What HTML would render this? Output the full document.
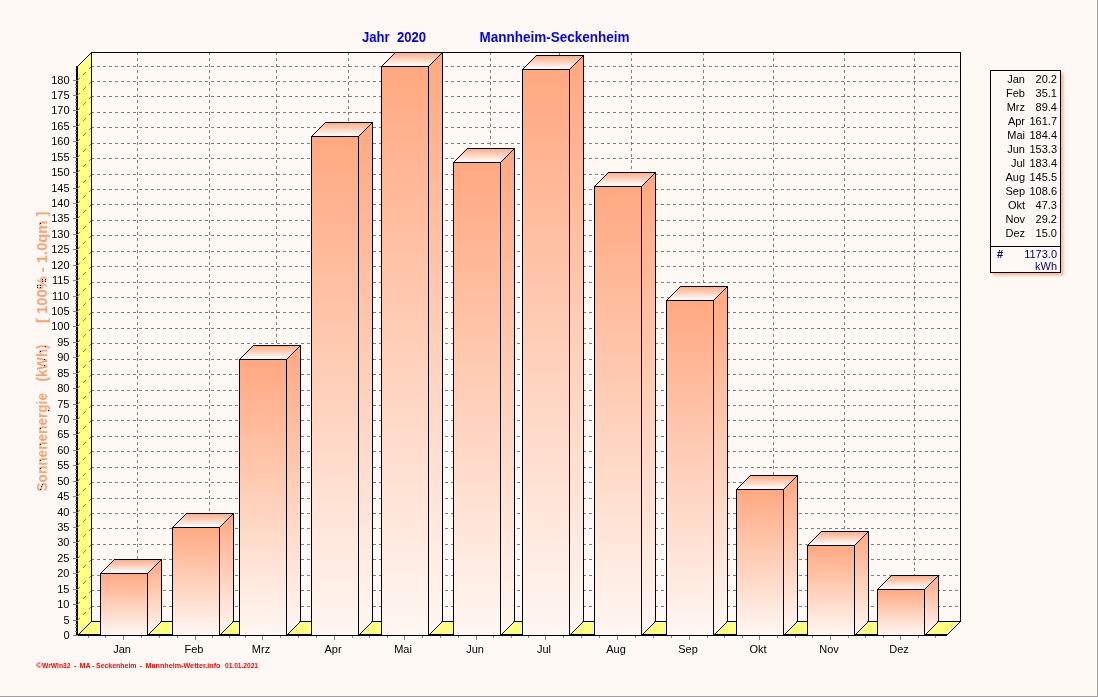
<!DOCTYPE html>
<html><head><meta charset="utf-8"><style>
html,body{margin:0;padding:0;background:#FFF9F5;width:1098px;height:697px;overflow:hidden}
text{font-family:"Liberation Sans",sans-serif}
</style></head><body>
<div style="will-change:transform"><svg width="1098" height="697" viewBox="0 0 1098 697" style="display:block">
<defs>
<linearGradient id="gv" x1="0" y1="0" x2="0" y2="1"><stop offset="0" stop-color="#FFA880"/><stop offset="1" stop-color="#FFF7F3"/></linearGradient>
</defs>
<rect x="0" y="0" width="1098" height="697" fill="#FFF9F5"/>
<rect x="1097" y="0" width="1" height="697" fill="#A0A0A0"/>
<rect x="0" y="696" width="1098" height="1" fill="#A0A0A0"/>
<g stroke="#808080" stroke-width="1" stroke-dasharray="3 3" shape-rendering="crispEdges"><line x1="91" y1="606.5" x2="960" y2="606.5"/><line x1="91" y1="590.5" x2="960" y2="590.5"/><line x1="91" y1="575.5" x2="960" y2="575.5"/><line x1="91" y1="559.5" x2="960" y2="559.5"/><line x1="91" y1="544.5" x2="960" y2="544.5"/><line x1="91" y1="528.5" x2="960" y2="528.5"/><line x1="91" y1="513.5" x2="960" y2="513.5"/><line x1="91" y1="498.5" x2="960" y2="498.5"/><line x1="91" y1="482.5" x2="960" y2="482.5"/><line x1="91" y1="467.5" x2="960" y2="467.5"/><line x1="91" y1="451.5" x2="960" y2="451.5"/><line x1="91" y1="436.5" x2="960" y2="436.5"/><line x1="91" y1="420.5" x2="960" y2="420.5"/><line x1="91" y1="405.5" x2="960" y2="405.5"/><line x1="91" y1="390.5" x2="960" y2="390.5"/><line x1="91" y1="374.5" x2="960" y2="374.5"/><line x1="91" y1="359.5" x2="960" y2="359.5"/><line x1="91" y1="343.5" x2="960" y2="343.5"/><line x1="91" y1="328.5" x2="960" y2="328.5"/><line x1="91" y1="312.5" x2="960" y2="312.5"/><line x1="91" y1="297.5" x2="960" y2="297.5"/><line x1="91" y1="282.5" x2="960" y2="282.5"/><line x1="91" y1="266.5" x2="960" y2="266.5"/><line x1="91" y1="251.5" x2="960" y2="251.5"/><line x1="91" y1="235.5" x2="960" y2="235.5"/><line x1="91" y1="220.5" x2="960" y2="220.5"/><line x1="91" y1="204.5" x2="960" y2="204.5"/><line x1="91" y1="189.5" x2="960" y2="189.5"/><line x1="91" y1="174.5" x2="960" y2="174.5"/><line x1="91" y1="158.5" x2="960" y2="158.5"/><line x1="91" y1="143.5" x2="960" y2="143.5"/><line x1="91" y1="127.5" x2="960" y2="127.5"/><line x1="91" y1="112.5" x2="960" y2="112.5"/><line x1="91" y1="96.5" x2="960" y2="96.5"/><line x1="91" y1="81.5" x2="960" y2="81.5"/><line x1="91" y1="66.5" x2="960" y2="66.5"/><line x1="137.5" y1="52" x2="137.5" y2="621"/><line x1="209.5" y1="52" x2="209.5" y2="621"/><line x1="276.5" y1="52" x2="276.5" y2="621"/><line x1="348.5" y1="52" x2="348.5" y2="621"/><line x1="418.5" y1="52" x2="418.5" y2="621"/><line x1="490.5" y1="52" x2="490.5" y2="621"/><line x1="559.5" y1="52" x2="559.5" y2="621"/><line x1="631.5" y1="52" x2="631.5" y2="621"/><line x1="703.5" y1="52" x2="703.5" y2="621"/><line x1="773.5" y1="52" x2="773.5" y2="621"/><line x1="844.5" y1="52" x2="844.5" y2="621"/><line x1="914.5" y1="52" x2="914.5" y2="621"/></g>
<g fill="#000">
<rect x="91" y="52" width="870" height="1"/>
<rect x="960" y="52" width="1" height="570"/>
<rect x="91" y="52" width="1" height="570"/>
</g>
<polygon points="77,66 91,52 91,621 77,635" fill="#FFFF80"/>
<polygon points="77,635 91,621 960,621 946,635" fill="#FFFF80"/>
<g stroke="#000" stroke-width="1" shape-rendering="crispEdges" fill="none">
<line x1="77.5" y1="66.5" x2="91.5" y2="52.5"/>
<line x1="77.5" y1="635.5" x2="91.5" y2="621.5"/>
<line x1="946.5" y1="635.5" x2="960.5" y2="621.5"/>
<line x1="91" y1="621.5" x2="961" y2="621.5"/>
</g>
<g fill="#000">
<rect x="76" y="66" width="2" height="570"/>
<rect x="76" y="634" width="871" height="2"/>
</g>
<path fill="#808080" d="M75,631h2v1h-2zM75,627h2v1h-2zM75,624h2v1h-2zM75,616h2v1h-2zM75,612h2v1h-2zM75,608h2v1h-2zM75,600h2v1h-2zM75,596h2v1h-2zM75,593h2v1h-2zM75,585h2v1h-2zM75,581h2v1h-2zM75,577h2v1h-2zM75,569h2v1h-2zM75,565h2v1h-2zM75,562h2v1h-2zM75,554h2v1h-2zM75,550h2v1h-2zM75,546h2v1h-2zM75,538h2v1h-2zM75,534h2v1h-2zM75,531h2v1h-2zM75,523h2v1h-2zM75,519h2v1h-2zM75,516h2v1h-2zM75,508h2v1h-2zM75,504h2v1h-2zM75,500h2v1h-2zM75,492h2v1h-2zM75,488h2v1h-2zM75,485h2v1h-2zM75,477h2v1h-2zM75,473h2v1h-2zM75,469h2v1h-2zM75,461h2v1h-2zM75,457h2v1h-2zM75,454h2v1h-2zM75,446h2v1h-2zM75,442h2v1h-2zM75,438h2v1h-2zM75,430h2v1h-2zM75,426h2v1h-2zM75,423h2v1h-2zM75,415h2v1h-2zM75,411h2v1h-2zM75,408h2v1h-2zM75,400h2v1h-2zM75,396h2v1h-2zM75,392h2v1h-2zM75,384h2v1h-2zM75,380h2v1h-2zM75,377h2v1h-2zM75,369h2v1h-2zM75,365h2v1h-2zM75,361h2v1h-2zM75,353h2v1h-2zM75,349h2v1h-2zM75,346h2v1h-2zM75,338h2v1h-2zM75,334h2v1h-2zM75,330h2v1h-2zM75,322h2v1h-2zM75,318h2v1h-2zM75,315h2v1h-2zM75,307h2v1h-2zM75,303h2v1h-2zM75,300h2v1h-2zM75,292h2v1h-2zM75,288h2v1h-2zM75,284h2v1h-2zM75,276h2v1h-2zM75,272h2v1h-2zM75,269h2v1h-2zM75,261h2v1h-2zM75,257h2v1h-2zM75,253h2v1h-2zM75,245h2v1h-2zM75,241h2v1h-2zM75,238h2v1h-2zM75,230h2v1h-2zM75,226h2v1h-2zM75,222h2v1h-2zM75,214h2v1h-2zM75,210h2v1h-2zM75,207h2v1h-2zM75,199h2v1h-2zM75,195h2v1h-2zM75,192h2v1h-2zM75,184h2v1h-2zM75,180h2v1h-2zM75,176h2v1h-2zM75,168h2v1h-2zM75,164h2v1h-2zM75,161h2v1h-2zM75,153h2v1h-2zM75,149h2v1h-2zM75,145h2v1h-2zM75,137h2v1h-2zM75,133h2v1h-2zM75,130h2v1h-2zM75,122h2v1h-2zM75,118h2v1h-2zM75,114h2v1h-2zM75,106h2v1h-2zM75,102h2v1h-2zM75,99h2v1h-2zM75,91h2v1h-2zM75,87h2v1h-2zM75,84h2v1h-2zM73,635h5v1h-5zM73,620h5v1h-5zM73,604h5v1h-5zM73,589h5v1h-5zM73,573h5v1h-5zM73,558h5v1h-5zM73,542h5v1h-5zM73,527h5v1h-5zM73,512h5v1h-5zM73,496h5v1h-5zM73,481h5v1h-5zM73,465h5v1h-5zM73,450h5v1h-5zM73,434h5v1h-5zM73,419h5v1h-5zM73,404h5v1h-5zM73,388h5v1h-5zM73,373h5v1h-5zM73,357h5v1h-5zM73,342h5v1h-5zM73,326h5v1h-5zM73,311h5v1h-5zM73,296h5v1h-5zM73,280h5v1h-5zM73,265h5v1h-5zM73,249h5v1h-5zM73,234h5v1h-5zM73,218h5v1h-5zM73,203h5v1h-5zM73,188h5v1h-5zM73,172h5v1h-5zM73,157h5v1h-5zM73,141h5v1h-5zM73,126h5v1h-5zM73,110h5v1h-5zM73,95h5v1h-5zM73,80h5v1h-5z"/>
<path fill="#808080" d="M78,619h1v1h-1zM79,618h1v1h-1zM83,614h1v1h-1zM84,613h1v1h-1zM85,612h1v1h-1zM89,608h1v1h-1zM90,607h1v1h-1zM78,603h1v1h-1zM79,602h1v1h-1zM83,598h1v1h-1zM84,597h1v1h-1zM85,596h1v1h-1zM89,592h1v1h-1zM90,591h1v1h-1zM78,588h1v1h-1zM79,587h1v1h-1zM83,583h1v1h-1zM84,582h1v1h-1zM85,581h1v1h-1zM89,577h1v1h-1zM90,576h1v1h-1zM78,572h1v1h-1zM79,571h1v1h-1zM83,567h1v1h-1zM84,566h1v1h-1zM85,565h1v1h-1zM89,561h1v1h-1zM90,560h1v1h-1zM78,557h1v1h-1zM79,556h1v1h-1zM83,552h1v1h-1zM84,551h1v1h-1zM85,550h1v1h-1zM89,546h1v1h-1zM90,545h1v1h-1zM78,541h1v1h-1zM79,540h1v1h-1zM83,536h1v1h-1zM84,535h1v1h-1zM85,534h1v1h-1zM89,530h1v1h-1zM90,529h1v1h-1zM78,526h1v1h-1zM79,525h1v1h-1zM83,521h1v1h-1zM84,520h1v1h-1zM85,519h1v1h-1zM89,515h1v1h-1zM90,514h1v1h-1zM78,511h1v1h-1zM79,510h1v1h-1zM83,506h1v1h-1zM84,505h1v1h-1zM85,504h1v1h-1zM89,500h1v1h-1zM90,499h1v1h-1zM78,495h1v1h-1zM79,494h1v1h-1zM83,490h1v1h-1zM84,489h1v1h-1zM85,488h1v1h-1zM89,484h1v1h-1zM90,483h1v1h-1zM78,480h1v1h-1zM79,479h1v1h-1zM83,475h1v1h-1zM84,474h1v1h-1zM85,473h1v1h-1zM89,469h1v1h-1zM90,468h1v1h-1zM78,464h1v1h-1zM79,463h1v1h-1zM83,459h1v1h-1zM84,458h1v1h-1zM85,457h1v1h-1zM89,453h1v1h-1zM90,452h1v1h-1zM78,449h1v1h-1zM79,448h1v1h-1zM83,444h1v1h-1zM84,443h1v1h-1zM85,442h1v1h-1zM89,438h1v1h-1zM90,437h1v1h-1zM78,433h1v1h-1zM79,432h1v1h-1zM83,428h1v1h-1zM84,427h1v1h-1zM85,426h1v1h-1zM89,422h1v1h-1zM90,421h1v1h-1zM78,418h1v1h-1zM79,417h1v1h-1zM83,413h1v1h-1zM84,412h1v1h-1zM85,411h1v1h-1zM89,407h1v1h-1zM90,406h1v1h-1zM78,403h1v1h-1zM79,402h1v1h-1zM83,398h1v1h-1zM84,397h1v1h-1zM85,396h1v1h-1zM89,392h1v1h-1zM90,391h1v1h-1zM78,387h1v1h-1zM79,386h1v1h-1zM83,382h1v1h-1zM84,381h1v1h-1zM85,380h1v1h-1zM89,376h1v1h-1zM90,375h1v1h-1zM78,372h1v1h-1zM79,371h1v1h-1zM83,367h1v1h-1zM84,366h1v1h-1zM85,365h1v1h-1zM89,361h1v1h-1zM90,360h1v1h-1zM78,356h1v1h-1zM79,355h1v1h-1zM83,351h1v1h-1zM84,350h1v1h-1zM85,349h1v1h-1zM89,345h1v1h-1zM90,344h1v1h-1zM78,341h1v1h-1zM79,340h1v1h-1zM83,336h1v1h-1zM84,335h1v1h-1zM85,334h1v1h-1zM89,330h1v1h-1zM90,329h1v1h-1zM78,325h1v1h-1zM79,324h1v1h-1zM83,320h1v1h-1zM84,319h1v1h-1zM85,318h1v1h-1zM89,314h1v1h-1zM90,313h1v1h-1zM78,310h1v1h-1zM79,309h1v1h-1zM83,305h1v1h-1zM84,304h1v1h-1zM85,303h1v1h-1zM89,299h1v1h-1zM90,298h1v1h-1zM78,295h1v1h-1zM79,294h1v1h-1zM83,290h1v1h-1zM84,289h1v1h-1zM85,288h1v1h-1zM89,284h1v1h-1zM90,283h1v1h-1zM78,279h1v1h-1zM79,278h1v1h-1zM83,274h1v1h-1zM84,273h1v1h-1zM85,272h1v1h-1zM89,268h1v1h-1zM90,267h1v1h-1zM78,264h1v1h-1zM79,263h1v1h-1zM83,259h1v1h-1zM84,258h1v1h-1zM85,257h1v1h-1zM89,253h1v1h-1zM90,252h1v1h-1zM78,248h1v1h-1zM79,247h1v1h-1zM83,243h1v1h-1zM84,242h1v1h-1zM85,241h1v1h-1zM89,237h1v1h-1zM90,236h1v1h-1zM78,233h1v1h-1zM79,232h1v1h-1zM83,228h1v1h-1zM84,227h1v1h-1zM85,226h1v1h-1zM89,222h1v1h-1zM90,221h1v1h-1zM78,217h1v1h-1zM79,216h1v1h-1zM83,212h1v1h-1zM84,211h1v1h-1zM85,210h1v1h-1zM89,206h1v1h-1zM90,205h1v1h-1zM78,202h1v1h-1zM79,201h1v1h-1zM83,197h1v1h-1zM84,196h1v1h-1zM85,195h1v1h-1zM89,191h1v1h-1zM90,190h1v1h-1zM78,187h1v1h-1zM79,186h1v1h-1zM83,182h1v1h-1zM84,181h1v1h-1zM85,180h1v1h-1zM89,176h1v1h-1zM90,175h1v1h-1zM78,171h1v1h-1zM79,170h1v1h-1zM83,166h1v1h-1zM84,165h1v1h-1zM85,164h1v1h-1zM89,160h1v1h-1zM90,159h1v1h-1zM78,156h1v1h-1zM79,155h1v1h-1zM83,151h1v1h-1zM84,150h1v1h-1zM85,149h1v1h-1zM89,145h1v1h-1zM90,144h1v1h-1zM78,140h1v1h-1zM79,139h1v1h-1zM83,135h1v1h-1zM84,134h1v1h-1zM85,133h1v1h-1zM89,129h1v1h-1zM90,128h1v1h-1zM78,125h1v1h-1zM79,124h1v1h-1zM83,120h1v1h-1zM84,119h1v1h-1zM85,118h1v1h-1zM89,114h1v1h-1zM90,113h1v1h-1zM78,109h1v1h-1zM79,108h1v1h-1zM83,104h1v1h-1zM84,103h1v1h-1zM85,102h1v1h-1zM89,98h1v1h-1zM90,97h1v1h-1zM78,94h1v1h-1zM79,93h1v1h-1zM83,89h1v1h-1zM84,88h1v1h-1zM85,87h1v1h-1zM89,83h1v1h-1zM90,82h1v1h-1zM78,79h1v1h-1zM79,78h1v1h-1zM83,74h1v1h-1zM84,73h1v1h-1zM85,72h1v1h-1zM89,68h1v1h-1zM90,67h1v1h-1z"/>
<polygon points="147,573 161,559 161,621 147,635" fill="url(#gv)"/>
<linearGradient id="gt0" x1="0" y1="0" x2="0" y2="1"><stop offset="0" stop-color="#FFA880"/><stop offset="1" stop-color="#FFFFFF"/></linearGradient>
<polygon points="100,573 114,559 161,559 147,573" fill="url(#gt0)"/>
<rect x="100" y="573" width="47" height="62" fill="url(#gv)"/>
<g stroke="#000" stroke-width="1" shape-rendering="crispEdges" fill="none">
<rect x="100.5" y="573.5" width="47" height="62"/>
<line x1="100.5" y1="573.5" x2="114.5" y2="559.5"/>
<line x1="147.5" y1="573.5" x2="161.5" y2="559.5"/>
<line x1="147.5" y1="635.5" x2="161.5" y2="621.5"/>
<line x1="114" y1="559.5" x2="162" y2="559.5"/>
<line x1="161.5" y1="559" x2="161.5" y2="622"/>
</g>
<polygon points="219,527 233,513 233,621 219,635" fill="url(#gv)"/>
<linearGradient id="gt1" x1="0" y1="0" x2="0" y2="1"><stop offset="0" stop-color="#FFA880"/><stop offset="1" stop-color="#FFFFFF"/></linearGradient>
<polygon points="172,527 186,513 233,513 219,527" fill="url(#gt1)"/>
<rect x="172" y="527" width="47" height="108" fill="url(#gv)"/>
<g stroke="#000" stroke-width="1" shape-rendering="crispEdges" fill="none">
<rect x="172.5" y="527.5" width="47" height="108"/>
<line x1="172.5" y1="527.5" x2="186.5" y2="513.5"/>
<line x1="219.5" y1="527.5" x2="233.5" y2="513.5"/>
<line x1="219.5" y1="635.5" x2="233.5" y2="621.5"/>
<line x1="186" y1="513.5" x2="234" y2="513.5"/>
<line x1="233.5" y1="513" x2="233.5" y2="622"/>
</g>
<polygon points="286,359 300,345 300,621 286,635" fill="url(#gv)"/>
<linearGradient id="gt2" x1="0" y1="0" x2="0" y2="1"><stop offset="0" stop-color="#FFA880"/><stop offset="1" stop-color="#FFFFFF"/></linearGradient>
<polygon points="239,359 253,345 300,345 286,359" fill="url(#gt2)"/>
<rect x="239" y="359" width="47" height="276" fill="url(#gv)"/>
<g stroke="#000" stroke-width="1" shape-rendering="crispEdges" fill="none">
<rect x="239.5" y="359.5" width="47" height="276"/>
<line x1="239.5" y1="359.5" x2="253.5" y2="345.5"/>
<line x1="286.5" y1="359.5" x2="300.5" y2="345.5"/>
<line x1="286.5" y1="635.5" x2="300.5" y2="621.5"/>
<line x1="253" y1="345.5" x2="301" y2="345.5"/>
<line x1="300.5" y1="345" x2="300.5" y2="622"/>
</g>
<polygon points="358,136 372,122 372,621 358,635" fill="url(#gv)"/>
<linearGradient id="gt3" x1="0" y1="0" x2="0" y2="1"><stop offset="0" stop-color="#FFA880"/><stop offset="1" stop-color="#FFFFFF"/></linearGradient>
<polygon points="311,136 325,122 372,122 358,136" fill="url(#gt3)"/>
<rect x="311" y="136" width="47" height="499" fill="url(#gv)"/>
<g stroke="#000" stroke-width="1" shape-rendering="crispEdges" fill="none">
<rect x="311.5" y="136.5" width="47" height="499"/>
<line x1="311.5" y1="136.5" x2="325.5" y2="122.5"/>
<line x1="358.5" y1="136.5" x2="372.5" y2="122.5"/>
<line x1="358.5" y1="635.5" x2="372.5" y2="621.5"/>
<line x1="325" y1="122.5" x2="373" y2="122.5"/>
<line x1="372.5" y1="122" x2="372.5" y2="622"/>
</g>
<polygon points="428,66 442,52 442,621 428,635" fill="url(#gv)"/>
<linearGradient id="gt4" x1="0" y1="0" x2="0" y2="1"><stop offset="0" stop-color="#FFA880"/><stop offset="1" stop-color="#FFFFFF"/></linearGradient>
<polygon points="381,66 395,52 442,52 428,66" fill="url(#gt4)"/>
<rect x="381" y="66" width="47" height="569" fill="url(#gv)"/>
<g stroke="#000" stroke-width="1" shape-rendering="crispEdges" fill="none">
<rect x="381.5" y="66.5" width="47" height="569"/>
<line x1="381.5" y1="66.5" x2="395.5" y2="52.5"/>
<line x1="428.5" y1="66.5" x2="442.5" y2="52.5"/>
<line x1="428.5" y1="635.5" x2="442.5" y2="621.5"/>
<line x1="395" y1="52.5" x2="443" y2="52.5"/>
<line x1="442.5" y1="52" x2="442.5" y2="622"/>
</g>
<polygon points="500,162 514,148 514,621 500,635" fill="url(#gv)"/>
<linearGradient id="gt5" x1="0" y1="0" x2="0" y2="1"><stop offset="0" stop-color="#FFA880"/><stop offset="1" stop-color="#FFFFFF"/></linearGradient>
<polygon points="453,162 467,148 514,148 500,162" fill="url(#gt5)"/>
<rect x="453" y="162" width="47" height="473" fill="url(#gv)"/>
<g stroke="#000" stroke-width="1" shape-rendering="crispEdges" fill="none">
<rect x="453.5" y="162.5" width="47" height="473"/>
<line x1="453.5" y1="162.5" x2="467.5" y2="148.5"/>
<line x1="500.5" y1="162.5" x2="514.5" y2="148.5"/>
<line x1="500.5" y1="635.5" x2="514.5" y2="621.5"/>
<line x1="467" y1="148.5" x2="515" y2="148.5"/>
<line x1="514.5" y1="148" x2="514.5" y2="622"/>
</g>
<polygon points="569,69 583,55 583,621 569,635" fill="url(#gv)"/>
<linearGradient id="gt6" x1="0" y1="0" x2="0" y2="1"><stop offset="0" stop-color="#FFA880"/><stop offset="1" stop-color="#FFFFFF"/></linearGradient>
<polygon points="522,69 536,55 583,55 569,69" fill="url(#gt6)"/>
<rect x="522" y="69" width="47" height="566" fill="url(#gv)"/>
<g stroke="#000" stroke-width="1" shape-rendering="crispEdges" fill="none">
<rect x="522.5" y="69.5" width="47" height="566"/>
<line x1="522.5" y1="69.5" x2="536.5" y2="55.5"/>
<line x1="569.5" y1="69.5" x2="583.5" y2="55.5"/>
<line x1="569.5" y1="635.5" x2="583.5" y2="621.5"/>
<line x1="536" y1="55.5" x2="584" y2="55.5"/>
<line x1="583.5" y1="55" x2="583.5" y2="622"/>
</g>
<polygon points="641,186 655,172 655,621 641,635" fill="url(#gv)"/>
<linearGradient id="gt7" x1="0" y1="0" x2="0" y2="1"><stop offset="0" stop-color="#FFA880"/><stop offset="1" stop-color="#FFFFFF"/></linearGradient>
<polygon points="594,186 608,172 655,172 641,186" fill="url(#gt7)"/>
<rect x="594" y="186" width="47" height="449" fill="url(#gv)"/>
<g stroke="#000" stroke-width="1" shape-rendering="crispEdges" fill="none">
<rect x="594.5" y="186.5" width="47" height="449"/>
<line x1="594.5" y1="186.5" x2="608.5" y2="172.5"/>
<line x1="641.5" y1="186.5" x2="655.5" y2="172.5"/>
<line x1="641.5" y1="635.5" x2="655.5" y2="621.5"/>
<line x1="608" y1="172.5" x2="656" y2="172.5"/>
<line x1="655.5" y1="172" x2="655.5" y2="622"/>
</g>
<polygon points="713,300 727,286 727,621 713,635" fill="url(#gv)"/>
<linearGradient id="gt8" x1="0" y1="0" x2="0" y2="1"><stop offset="0" stop-color="#FFA880"/><stop offset="1" stop-color="#FFFFFF"/></linearGradient>
<polygon points="666,300 680,286 727,286 713,300" fill="url(#gt8)"/>
<rect x="666" y="300" width="47" height="335" fill="url(#gv)"/>
<g stroke="#000" stroke-width="1" shape-rendering="crispEdges" fill="none">
<rect x="666.5" y="300.5" width="47" height="335"/>
<line x1="666.5" y1="300.5" x2="680.5" y2="286.5"/>
<line x1="713.5" y1="300.5" x2="727.5" y2="286.5"/>
<line x1="713.5" y1="635.5" x2="727.5" y2="621.5"/>
<line x1="680" y1="286.5" x2="728" y2="286.5"/>
<line x1="727.5" y1="286" x2="727.5" y2="622"/>
</g>
<polygon points="783,489 797,475 797,621 783,635" fill="url(#gv)"/>
<linearGradient id="gt9" x1="0" y1="0" x2="0" y2="1"><stop offset="0" stop-color="#FFA880"/><stop offset="1" stop-color="#FFFFFF"/></linearGradient>
<polygon points="736,489 750,475 797,475 783,489" fill="url(#gt9)"/>
<rect x="736" y="489" width="47" height="146" fill="url(#gv)"/>
<g stroke="#000" stroke-width="1" shape-rendering="crispEdges" fill="none">
<rect x="736.5" y="489.5" width="47" height="146"/>
<line x1="736.5" y1="489.5" x2="750.5" y2="475.5"/>
<line x1="783.5" y1="489.5" x2="797.5" y2="475.5"/>
<line x1="783.5" y1="635.5" x2="797.5" y2="621.5"/>
<line x1="750" y1="475.5" x2="798" y2="475.5"/>
<line x1="797.5" y1="475" x2="797.5" y2="622"/>
</g>
<polygon points="854,545 868,531 868,621 854,635" fill="url(#gv)"/>
<linearGradient id="gt10" x1="0" y1="0" x2="0" y2="1"><stop offset="0" stop-color="#FFA880"/><stop offset="1" stop-color="#FFFFFF"/></linearGradient>
<polygon points="807,545 821,531 868,531 854,545" fill="url(#gt10)"/>
<rect x="807" y="545" width="47" height="90" fill="url(#gv)"/>
<g stroke="#000" stroke-width="1" shape-rendering="crispEdges" fill="none">
<rect x="807.5" y="545.5" width="47" height="90"/>
<line x1="807.5" y1="545.5" x2="821.5" y2="531.5"/>
<line x1="854.5" y1="545.5" x2="868.5" y2="531.5"/>
<line x1="854.5" y1="635.5" x2="868.5" y2="621.5"/>
<line x1="821" y1="531.5" x2="869" y2="531.5"/>
<line x1="868.5" y1="531" x2="868.5" y2="622"/>
</g>
<polygon points="924,589 938,575 938,621 924,635" fill="url(#gv)"/>
<linearGradient id="gt11" x1="0" y1="0" x2="0" y2="1"><stop offset="0" stop-color="#FFA880"/><stop offset="1" stop-color="#FFFFFF"/></linearGradient>
<polygon points="877,589 891,575 938,575 924,589" fill="url(#gt11)"/>
<rect x="877" y="589" width="47" height="46" fill="url(#gv)"/>
<g stroke="#000" stroke-width="1" shape-rendering="crispEdges" fill="none">
<rect x="877.5" y="589.5" width="47" height="46"/>
<line x1="877.5" y1="589.5" x2="891.5" y2="575.5"/>
<line x1="924.5" y1="589.5" x2="938.5" y2="575.5"/>
<line x1="924.5" y1="635.5" x2="938.5" y2="621.5"/>
<line x1="891" y1="575.5" x2="939" y2="575.5"/>
<line x1="938.5" y1="575" x2="938.5" y2="622"/>
</g>
<g fill="#808080"><rect x="123" y="636" width="1" height="4"/><rect x="195" y="636" width="1" height="4"/><rect x="262" y="636" width="1" height="4"/><rect x="334" y="636" width="1" height="4"/><rect x="404" y="636" width="1" height="4"/><rect x="476" y="636" width="1" height="4"/><rect x="545" y="636" width="1" height="4"/><rect x="617" y="636" width="1" height="4"/><rect x="689" y="636" width="1" height="4"/><rect x="759" y="636" width="1" height="4"/><rect x="830" y="636" width="1" height="4"/><rect x="900" y="636" width="1" height="4"/><rect x="88" y="636" width="1" height="2"/><rect x="105" y="636" width="1" height="2"/><rect x="141" y="636" width="1" height="2"/><rect x="159" y="636" width="1" height="2"/><rect x="177" y="636" width="1" height="2"/><rect x="212" y="636" width="1" height="2"/><rect x="229" y="636" width="1" height="2"/><rect x="245" y="636" width="1" height="2"/><rect x="280" y="636" width="1" height="2"/><rect x="298" y="636" width="1" height="2"/><rect x="316" y="636" width="1" height="2"/><rect x="352" y="636" width="1" height="2"/><rect x="369" y="636" width="1" height="2"/><rect x="387" y="636" width="1" height="2"/><rect x="422" y="636" width="1" height="2"/><rect x="440" y="636" width="1" height="2"/><rect x="458" y="636" width="1" height="2"/><rect x="493" y="636" width="1" height="2"/><rect x="511" y="636" width="1" height="2"/><rect x="528" y="636" width="1" height="2"/><rect x="563" y="636" width="1" height="2"/><rect x="581" y="636" width="1" height="2"/><rect x="599" y="636" width="1" height="2"/><rect x="635" y="636" width="1" height="2"/><rect x="653" y="636" width="1" height="2"/><rect x="671" y="636" width="1" height="2"/><rect x="707" y="636" width="1" height="2"/><rect x="724" y="636" width="1" height="2"/><rect x="742" y="636" width="1" height="2"/><rect x="777" y="636" width="1" height="2"/><rect x="795" y="636" width="1" height="2"/><rect x="812" y="636" width="1" height="2"/><rect x="848" y="636" width="1" height="2"/><rect x="865" y="636" width="1" height="2"/><rect x="883" y="636" width="1" height="2"/><rect x="918" y="636" width="1" height="2"/><rect x="935" y="636" width="1" height="2"/></g>
<g font-family="Liberation Sans" font-size="11" fill="#000" text-anchor="end"><text x="69.5" y="639">0</text><text x="69.5" y="624">5</text><text x="69.5" y="608">10</text><text x="69.5" y="593">15</text><text x="69.5" y="577">20</text><text x="69.5" y="562">25</text><text x="69.5" y="546">30</text><text x="69.5" y="531">35</text><text x="69.5" y="516">40</text><text x="69.5" y="500">45</text><text x="69.5" y="485">50</text><text x="69.5" y="469">55</text><text x="69.5" y="454">60</text><text x="69.5" y="438">65</text><text x="69.5" y="423">70</text><text x="69.5" y="408">75</text><text x="69.5" y="392">80</text><text x="69.5" y="377">85</text><text x="69.5" y="361">90</text><text x="69.5" y="346">95</text><text x="69.5" y="330">100</text><text x="69.5" y="315">105</text><text x="69.5" y="300">110</text><text x="69.5" y="284">115</text><text x="69.5" y="269">120</text><text x="69.5" y="253">125</text><text x="69.5" y="238">130</text><text x="69.5" y="222">135</text><text x="69.5" y="207">140</text><text x="69.5" y="192">145</text><text x="69.5" y="176">150</text><text x="69.5" y="161">155</text><text x="69.5" y="145">160</text><text x="69.5" y="130">165</text><text x="69.5" y="114">170</text><text x="69.5" y="99">175</text><text x="69.5" y="84">180</text></g>
<g font-family="Liberation Sans" font-size="11" fill="#000" text-anchor="middle"><text x="122" y="653">Jan</text><text x="194" y="653">Feb</text><text x="261" y="653">Mrz</text><text x="333" y="653">Apr</text><text x="403" y="653">Mai</text><text x="475" y="653">Jun</text><text x="544" y="653">Jul</text><text x="616" y="653">Aug</text><text x="688" y="653">Sep</text><text x="758" y="653">Okt</text><text x="829" y="653">Nov</text><text x="899" y="653">Dez</text></g>
<g font-family="Liberation Sans" font-size="14" font-weight="bold" fill="#0000FF">
<text x="362" y="42" xml:space="preserve" textLength="64" lengthAdjust="spacingAndGlyphs">Jahr  2020</text>
<text x="479.5" y="42" textLength="150" lengthAdjust="spacingAndGlyphs">Mannheim-Seckenheim</text>
</g>
<g font-family="Liberation Sans" font-size="15" font-weight="bold" fill="#FFA070">
<text transform="translate(47,491.5) rotate(-90)" textLength="98.5" lengthAdjust="spacingAndGlyphs" xml:space="preserve">Sonnenenergie</text>
<text transform="translate(47,381.5) rotate(-90)" textLength="37.0" lengthAdjust="spacingAndGlyphs" xml:space="preserve">(kWh)</text>
<text transform="translate(47,323) rotate(-90)" textLength="111.5" lengthAdjust="spacingAndGlyphs" xml:space="preserve">[ 100% - 1.0qm ]</text>
</g>
<path fill="#000" d="M48,410h1v1h-1zM40,428h1v1h-1zM40,444h1v1h-1zM40,460h1v1h-1zM40,468h1v1h-1zM42,484h1v1h-1zM41,486h1v1h-1zM40,489h1v1h-1zM45,346h1v1h-1zM40,351h1v1h-1zM44,359h1v1h-1zM44,365h1v1h-1zM42,279h1v1h-1zM45,279h1v1h-1zM42,281h1v1h-1zM45,281h1v1h-1zM37,285h1v1h-1zM40,285h1v1h-1zM37,287h1v1h-1zM40,287h1v1h-1zM40,223h1v1h-1z"/>
<filter id="blr" x="-10%" y="-10%" width="120%" height="120%"><feGaussianBlur stdDeviation="0.8"/></filter>
<rect x="993" y="73" width="70.5" height="202.5" fill="#FFB898" filter="url(#blr)"/>
<rect x="990.5" y="70.5" width="70" height="202" fill="#FFF9F5" stroke="#000" stroke-width="1" shape-rendering="crispEdges"/>
<rect x="990" y="246" width="71" height="1" fill="#000"/>
<g font-family="Liberation Sans" font-size="11" fill="#000" text-anchor="end"><text x="1025" y="83">Jan</text><text x="1057" y="83">20.2</text><text x="1025" y="97">Feb</text><text x="1057" y="97">35.1</text><text x="1025" y="111">Mrz</text><text x="1057" y="111">89.4</text><text x="1025" y="125">Apr</text><text x="1057" y="125">161.7</text><text x="1025" y="139">Mai</text><text x="1057" y="139">184.4</text><text x="1025" y="153">Jun</text><text x="1057" y="153">153.3</text><text x="1025" y="167">Jul</text><text x="1057" y="167">183.4</text><text x="1025" y="181">Aug</text><text x="1057" y="181">145.5</text><text x="1025" y="195">Sep</text><text x="1057" y="195">108.6</text><text x="1025" y="209">Okt</text><text x="1057" y="209">47.3</text><text x="1025" y="223">Nov</text><text x="1057" y="223">29.2</text><text x="1025" y="237">Dez</text><text x="1057" y="237">15.0</text></g>
<g font-family="Liberation Sans" font-size="11" fill="#000080">
<text x="997" y="258" font-weight="bold">#</text>
<text x="1057" y="258" text-anchor="end">1173.0</text>
<text x="1057" y="270" text-anchor="end">kWh</text>
</g>
<g font-family="Liberation Sans" font-size="7" font-weight="bold" fill="#FF0000">
<text x="36" y="668" textLength="6" lengthAdjust="spacingAndGlyphs">©</text>
<text x="42" y="668" textLength="28.5" lengthAdjust="spacingAndGlyphs">WrWin32</text>
<text x="74" y="668" textLength="2.5" lengthAdjust="spacingAndGlyphs">-</text>
<text x="79.5" y="668" textLength="11.0" lengthAdjust="spacingAndGlyphs">MA</text>
<text x="92" y="668" textLength="2.5" lengthAdjust="spacingAndGlyphs">-</text>
<text x="96" y="668" textLength="40.5" lengthAdjust="spacingAndGlyphs">Seckenheim</text>
<text x="139.5" y="668" textLength="2.5" lengthAdjust="spacingAndGlyphs">-</text>
<text x="145.5" y="668" textLength="75.0" lengthAdjust="spacingAndGlyphs">Mannheim-Wetter.info</text>
<text x="225" y="668" textLength="33" lengthAdjust="spacingAndGlyphs">01.01.2021</text>
</g>
</svg></div>
</body></html>
